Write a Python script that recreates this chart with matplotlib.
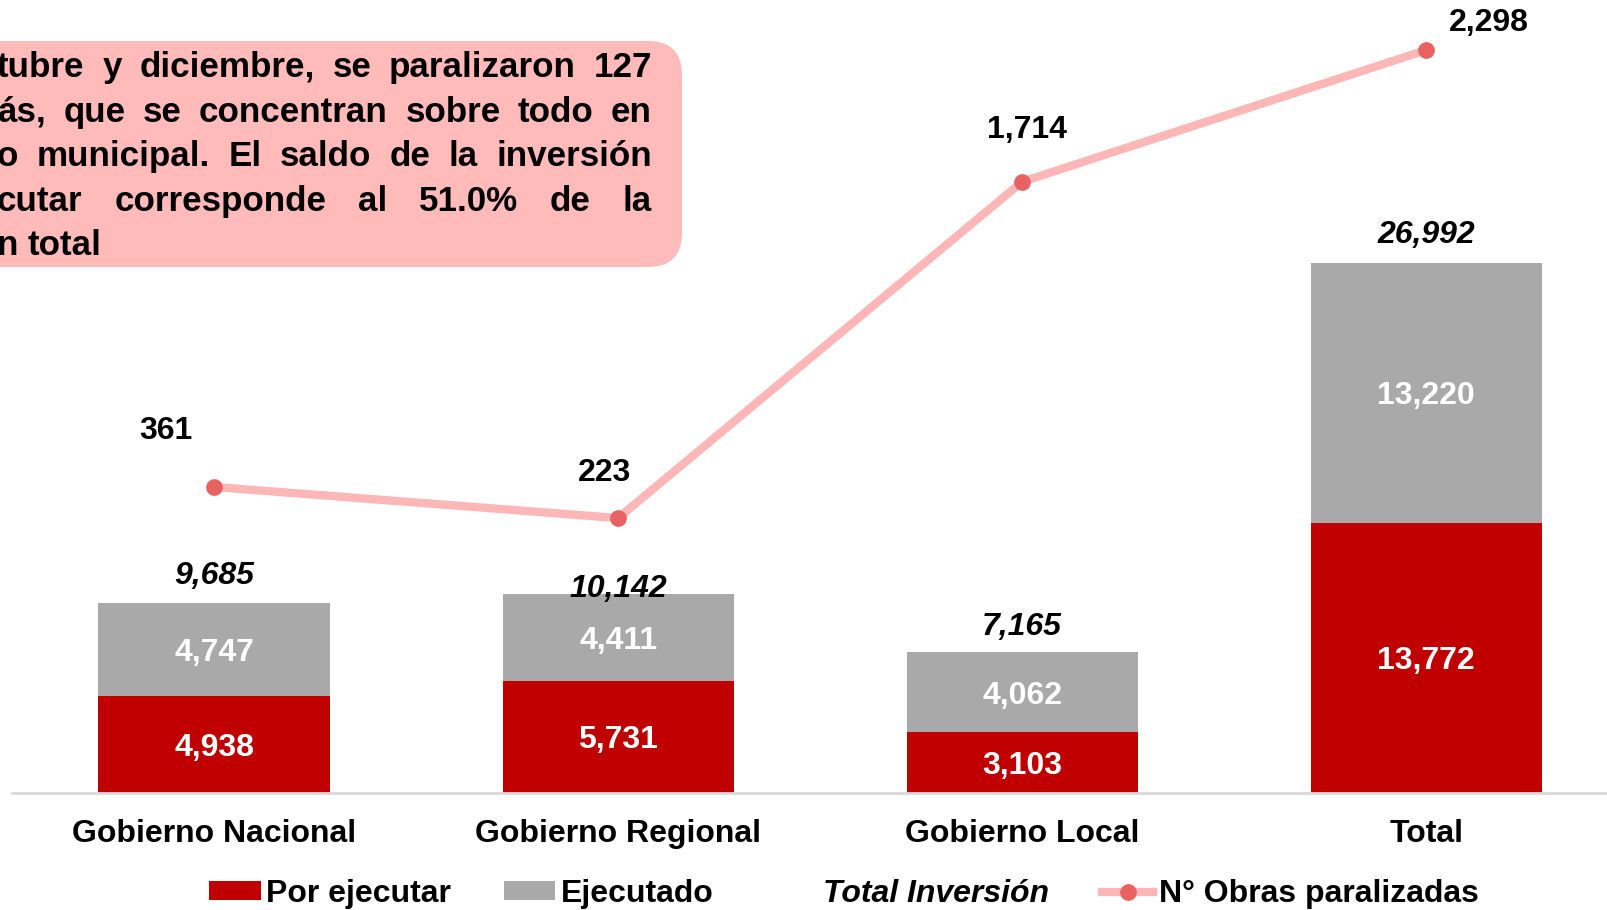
import matplotlib
matplotlib.use("Agg")
import matplotlib.pyplot as plt
from matplotlib.patches import FancyBboxPatch, Patch
from matplotlib.lines import Line2D

# ---------------- data ----------------
categories = ["Gobierno Nacional", "Gobierno Regional", "Gobierno Local", "Total"]
por_ejecutar = [4938, 5731, 3103, 13772]
ejecutado = [4747, 4411, 4062, 13220]
total_inversion = [9685, 10142, 7165, 26992]
obras_paralizadas = [361, 223, 1714, 2298]
legend_labels = ["Por ejecutar", "Ejecutado", "Total Inversión", "N° Obras paralizadas"]
note_lines = [
    "tubre y diciembre, se paralizaron 127",
    "ás, que se concentran sobre todo en",
    "o municipal. El saldo de la inversión",
    "cutar corresponde al 51.0% de la",
    "n total",
]

# ---------------- style ----------------
RED = "#C00000"
GRAY = "#A9A9A9"
LINE = "#FFB6B6"
MARK = "#E96262"
BOX = "#FFBABA"
FONT = "Liberation Sans"
plt.rcParams["font.family"] = [FONT, "DejaVu Sans"]

W, H, DPI = 1608, 910, 100
fig = plt.figure(figsize=(W / DPI, H / DPI), dpi=DPI)

ax_left = 12 / W
ax_bottom = 1 - 793 / H
ax = fig.add_axes([ax_left, ax_bottom, 1 - ax_left, 793 / H])
x = list(range(len(categories)))
bw = 0.572

ax.bar(x, por_ejecutar, width=bw, color=RED, zorder=2)
ax.bar(x, ejecutado, width=bw, bottom=por_ejecutar, color=GRAY, zorder=2)
ax.set_xlim(-0.5, 3.45)
ax.set_ylim(0, 40400)

seg_fs = 23
for i in x:
    ax.annotate(f"{por_ejecutar[i]:,}", (i, por_ejecutar[i] / 2), xytext=(0, -2.5),
                textcoords="offset points", ha="center", va="center",
                color="white", fontsize=seg_fs, fontweight="bold", zorder=3)
    ax.annotate(f"{ejecutado[i]:,}", (i, por_ejecutar[i] + ejecutado[i] / 2), xytext=(0, -2.5),
                textcoords="offset points", ha="center", va="center",
                color="white", fontsize=seg_fs, fontweight="bold", zorder=3)

total_off = [19.5, 3.6, 18, 20]
for i in x:
    ax.annotate(f"{total_inversion[i]:,}", (i, total_inversion[i]), xytext=(0, total_off[i]),
                textcoords="offset points", ha="center", va="center", fontsize=23,
                fontweight="bold", fontstyle="italic", color="black", zorder=4)

ax.set_xticks(x)
ax.set_xticklabels(categories, fontsize=23, fontweight="bold")
ax.tick_params(axis="x", length=0, pad=18.5)
ax.set_yticks([])
for s in ["top", "left", "right"]:
    ax.spines[s].set_visible(False)
ax.spines["bottom"].set_color("#D9D9D9")
ax.spines["bottom"].set_linewidth(2)
ax.patch.set_alpha(0)

ax2 = ax.twinx()
ax2.set_ylim(-996, 2520)
ax2.plot(x, obras_paralizadas, color=LINE, lw=6, solid_capstyle="round", zorder=5)
ax2.plot(x, obras_paralizadas, ls="none", marker="o", ms=11, mfc=MARK, mec=MARK, zorder=6)
ax2.set_yticks([])
for s in ["top", "left", "right", "bottom"]:
    ax2.spines[s].set_visible(False)

line_off = [(-35, 40.5), (-10, 32.5), (3.6, 37), (45, 19.5)]
for i in x:
    ax2.annotate(f"{obras_paralizadas[i]:,}", (i, obras_paralizadas[i]), xytext=line_off[i],
                 textcoords="offset points", ha="center", va="center", fontsize=23,
                 fontweight="bold", color="black")

# ---------------- note box ----------------
box = FancyBboxPatch((-60 / DPI, (H - 267) / DPI), (682 + 60) / DPI, (267 - 41) / DPI,
                     boxstyle="round,pad=0,rounding_size=0.34", transform=fig.dpi_scale_trans,
                     facecolor=BOX, edgecolor="none", zorder=0)
fig.patches.append(box)

renderer = fig.canvas.get_renderer()
xL, xR = -3, 652
base0, lead = 77, 44.6
note_fs = 25.2
for li, line in enumerate(note_lines):
    words = line.split(" ")
    ypx = base0 + li * lead
    yf = 1 - ypx / H
    texts = []
    widths = []
    for w in words:
        t = fig.text(0, yf, w, fontsize=note_fs, fontweight="bold", ha="left", va="baseline",
                     color="black", zorder=2)
        texts.append(t)
        widths.append(t.get_window_extent(renderer).width)
    if li < len(note_lines) - 1 and len(words) > 1:
        gap = (xR - xL - sum(widths)) / (len(words) - 1)
    else:
        sp = fig.text(0, 0, "a a", fontsize=note_fs, fontweight="bold")
        sp2 = fig.text(0, 0, "aa", fontsize=note_fs, fontweight="bold")
        gap = sp.get_window_extent(renderer).width - sp2.get_window_extent(renderer).width
        sp.remove(); sp2.remove()
    cx = xL
    for t, wdt in zip(texts, widths):
        t.set_x(cx / W)
        cx += wdt + gap

# ---------------- legend ----------------
handles = [
    Patch(facecolor=RED, edgecolor="none"),
    Patch(facecolor=GRAY, edgecolor="none"),
    Patch(facecolor="none", edgecolor="none"),
    Line2D([0], [0], color=LINE, lw=6, marker="o", ms=11, mfc=MARK, mec=MARK),
]
leg = fig.legend(handles, legend_labels, loc="center", bbox_to_anchor=(844 / W, 1 - 894 / H),
                 ncol=4, frameon=False, prop={"family": FONT, "size": 23, "weight": "bold"},
                 handlelength=1.62, handleheight=0.55, handletextpad=0.17, columnspacing=1.64,
                 borderpad=0, borderaxespad=0)
leg.get_texts()[2].set_fontstyle("italic")

fig.savefig("out.png", dpi=DPI)
